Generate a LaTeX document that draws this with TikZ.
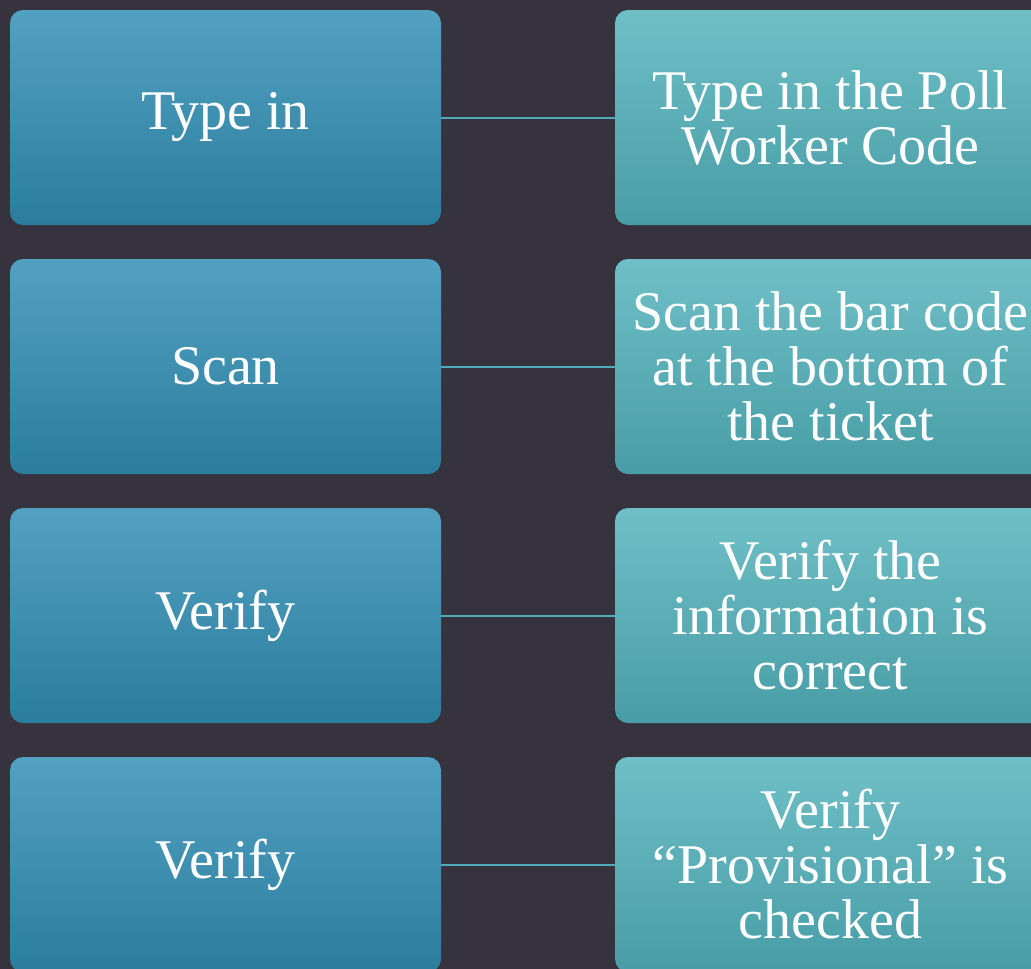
\documentclass[tikz,border=0pt]{standalone}
\usepackage{fontspec}
\setmainfont{Liberation Serif}
\usepackage{tikz}
\usetikzlibrary{calc}
\usetikzlibrary{shapes}

\definecolor{bgdark}{RGB}{54,51,63}
\definecolor{lefttop}{RGB}{83,161,194}
\definecolor{leftbot}{RGB}{43,125,157}
\definecolor{righttop}{RGB}{111,191,198}
\definecolor{rightbot}{RGB}{72,157,166}
\definecolor{linkcol}{RGB}{78,174,184}

\begin{document}
\begin{tikzpicture}[x=1pt, y=-1pt,
        left_style/.style={rectangle,rounded corners=13pt,inner sep=0pt,
            minimum width=431pt,minimum height=215pt,
            top color=lefttop,bottom color=leftbot,draw=none,
            text=white,align=center,font=\fontsize{56}{55}\selectfont},
        right_style/.style={rectangle,rounded corners=13pt,inner sep=0pt,
            minimum width=431pt,minimum height=215pt,
            top color=righttop,bottom color=rightbot,draw=none,
            text=white,align=center,font=\fontsize{56}{55}\selectfont},
        edge_style/.style={draw=linkcol, line width=2pt}]

        \useasboundingbox (0,0) rectangle (1031,969);
        \clip (0,0) rectangle (1031,969);
        \fill [bgdark] (0,0) rectangle (1031,969);

        \node [left_style](l1) at (225.5,117.5) {Type in};

        \node [left_style](l2) at (225.5,366.5) {Scan};

        \node [left_style](l3) at (225.5,615.5) {Verify};

        \node [left_style](l4) at (225.5,864.5) {Verify};

        \node [right_style](r1) at (830.5,117.5) {Type in the Poll\\Worker Code};

        \node [right_style](r2) at (830.5,366.5) {Scan the bar code\\at the bottom of\\the ticket};

        \node [right_style](r3) at (830.5,615.5) {Verify the\\information is\\correct};

        \node [right_style](r4) at (830.5,864.5) {Verify\\“Provisional” is\\checked};

        \draw [edge_style] (l1) -- (r1);

        \draw [edge_style] (l2) -- (r2);

        \draw [edge_style] (l3) -- (r3);

        \draw [edge_style] (l4) -- (r4);

        \end{tikzpicture}
\end{document}
